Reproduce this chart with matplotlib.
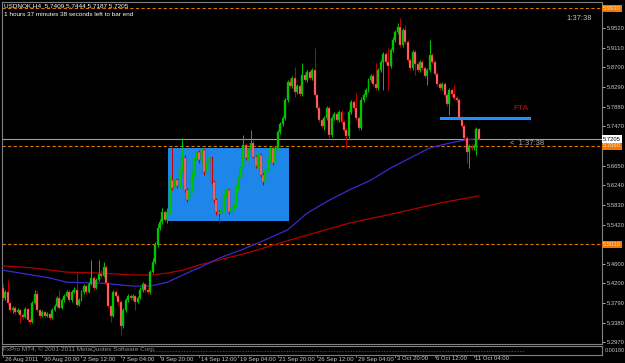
import matplotlib
matplotlib.use("Agg")
import matplotlib.pyplot as plt

plt.rcParams["font.family"] = ["Liberation Sans", "DejaVu Sans"]

# USDNOK H4, 195 bars, 26 Aug 2011 .. 11 Oct 2011 12:00
first_open = 5.410
closes = [
    5.389, 5.402, 5.379, 5.364, 5.368, 5.360, 5.364, 5.354, 5.350, 5.366,
    5.343, 5.339, 5.379, 5.397, 5.364, 5.352, 5.360, 5.352, 5.356, 5.347,
    5.364, 5.372, 5.389, 5.368, 5.385, 5.393, 5.402, 5.385, 5.402, 5.406,
    5.375, 5.385, 5.402, 5.414, 5.402, 5.418, 5.431, 5.410, 5.427, 5.439,
    5.435, 5.454, 5.420, 5.372, 5.352, 5.402, 5.393, 5.381, 5.331, 5.364,
    5.385, 5.393, 5.389, 5.393, 5.381, 5.389, 5.406, 5.418, 5.406, 5.402,
    5.443, 5.464, 5.500, 5.535, 5.548, 5.568, 5.552, 5.568, 5.635, 5.618,
    5.635, 5.623, 5.656, 5.681, 5.614, 5.593, 5.614, 5.646, 5.677, 5.694,
    5.677, 5.698, 5.652, 5.673, 5.681, 5.631, 5.593, 5.568, 5.564, 5.573,
    5.604, 5.614, 5.568, 5.577, 5.583, 5.618, 5.639, 5.660, 5.708, 5.681,
    5.698, 5.712, 5.683, 5.664, 5.687, 5.646, 5.631, 5.656, 5.677, 5.702,
    5.671, 5.702, 5.735, 5.752, 5.764, 5.802, 5.839, 5.831, 5.848, 5.819,
    5.831, 5.814, 5.854, 5.844, 5.860, 5.848, 5.864, 5.812, 5.785, 5.760,
    5.748, 5.764, 5.785, 5.729, 5.764, 5.773, 5.760, 5.777, 5.756, 5.739,
    5.727, 5.777, 5.798, 5.785, 5.764, 5.744, 5.802, 5.812, 5.823, 5.844,
    5.852, 5.835, 5.827, 5.864, 5.881, 5.898, 5.881, 5.873, 5.906, 5.927,
    5.944, 5.954, 5.917, 5.948, 5.923, 5.885, 5.869, 5.902, 5.877, 5.864,
    5.881, 5.869, 5.852, 5.864, 5.896, 5.881, 5.856, 5.835, 5.827, 5.835,
    5.812, 5.794, 5.823, 5.814, 5.806, 5.802, 5.764, 5.748, 5.723, 5.694,
    5.706, 5.702, 5.706, 5.7409, 5.7205,
]
highs = [
    5.418, 5.406, 5.427, 5.381, 5.372, 5.372, 5.368, 5.366, 5.358, 5.370,
    5.368, 5.347, 5.383, 5.406, 5.406, 5.366, 5.364, 5.362, 5.360, 5.358,
    5.368, 5.377, 5.393, 5.406, 5.389, 5.397, 5.406, 5.406, 5.406, 5.412,
    5.441, 5.389, 5.406, 5.418, 5.416, 5.422, 5.468, 5.435, 5.431, 5.468,
    5.447, 5.464, 5.458, 5.422, 5.375, 5.406, 5.406, 5.397, 5.385, 5.368,
    5.389, 5.397, 5.397, 5.397, 5.395, 5.393, 5.412, 5.422, 5.420, 5.410,
    5.447, 5.472, 5.506, 5.543, 5.554, 5.577, 5.573, 5.577, 5.643, 5.704,
    5.639, 5.639, 5.660, 5.723, 5.687, 5.618, 5.618, 5.652, 5.683, 5.698,
    5.698, 5.702, 5.702, 5.677, 5.687, 5.685, 5.635, 5.598, 5.573, 5.577,
    5.608, 5.618, 5.618, 5.583, 5.587, 5.625, 5.643, 5.666, 5.729, 5.712,
    5.702, 5.739, 5.719, 5.687, 5.694, 5.691, 5.650, 5.660, 5.681, 5.706,
    5.706, 5.706, 5.739, 5.756, 5.769, 5.806, 5.844, 5.848, 5.852, 5.871,
    5.835, 5.835, 5.879, 5.860, 5.864, 5.864, 5.869, 5.910, 5.816, 5.789,
    5.764, 5.769, 5.789, 5.789, 5.769, 5.777, 5.777, 5.781, 5.781, 5.760,
    5.744, 5.781, 5.802, 5.802, 5.816, 5.769, 5.808, 5.816, 5.827, 5.848,
    5.856, 5.856, 5.879, 5.869, 5.885, 5.902, 5.902, 5.910, 5.910, 5.933,
    5.948, 5.962, 5.973, 5.952, 5.958, 5.927, 5.890, 5.906, 5.906, 5.881,
    5.885, 5.885, 5.873, 5.869, 5.927, 5.900, 5.885, 5.860, 5.839, 5.839,
    5.839, 5.816, 5.827, 5.827, 5.833, 5.810, 5.806, 5.769, 5.752, 5.727,
    5.710, 5.710, 5.710, 5.746, 5.7444,
]
lows = [
    5.385, 5.385, 5.375, 5.360, 5.358, 5.356, 5.358, 5.337, 5.345, 5.347,
    5.339, 5.335, 5.337, 5.377, 5.360, 5.347, 5.350, 5.347, 5.350, 5.343,
    5.345, 5.362, 5.370, 5.366, 5.366, 5.381, 5.391, 5.381, 5.381, 5.400,
    5.370, 5.372, 5.383, 5.397, 5.397, 5.400, 5.416, 5.406, 5.408, 5.425,
    5.431, 5.433, 5.416, 5.368, 5.339, 5.350, 5.389, 5.375, 5.312, 5.327,
    5.360, 5.381, 5.385, 5.385, 5.364, 5.379, 5.387, 5.402, 5.402, 5.397,
    5.397, 5.441, 5.460, 5.495, 5.531, 5.543, 5.548, 5.545, 5.564, 5.614,
    5.614, 5.618, 5.618, 5.652, 5.610, 5.589, 5.587, 5.610, 5.641, 5.673,
    5.671, 5.673, 5.646, 5.648, 5.666, 5.627, 5.587, 5.562, 5.545, 5.560,
    5.568, 5.600, 5.564, 5.564, 5.573, 5.579, 5.614, 5.635, 5.656, 5.677,
    5.677, 5.694, 5.681, 5.660, 5.660, 5.641, 5.625, 5.627, 5.652, 5.673,
    5.666, 5.666, 5.698, 5.731, 5.748, 5.760, 5.798, 5.827, 5.827, 5.808,
    5.814, 5.810, 5.810, 5.839, 5.839, 5.844, 5.844, 5.808, 5.781, 5.756,
    5.744, 5.739, 5.760, 5.723, 5.725, 5.760, 5.756, 5.756, 5.752, 5.735,
    5.702, 5.723, 5.773, 5.781, 5.760, 5.739, 5.739, 5.798, 5.808, 5.819,
    5.839, 5.831, 5.823, 5.823, 5.860, 5.823, 5.877, 5.823, 5.869, 5.902,
    5.923, 5.940, 5.912, 5.912, 5.919, 5.881, 5.864, 5.864, 5.854, 5.860,
    5.860, 5.864, 5.848, 5.833, 5.860, 5.877, 5.852, 5.831, 5.823, 5.823,
    5.808, 5.789, 5.771, 5.810, 5.802, 5.798, 5.760, 5.744, 5.719, 5.671,
    5.660, 5.698, 5.698, 5.687, 5.7187,
]

# moving averages (bar index, value)
ma_fast_bar = [0, 19, 26, 40, 53, 60, 67, 75, 80, 88, 97, 105, 116, 124, 133,
               141, 150, 158, 166, 174, 182, 189, 194]
ma_fast_val = [5.447, 5.431, 5.422, 5.420, 5.414, 5.414, 5.422, 5.441, 5.452,
               5.472, 5.489, 5.506, 5.531, 5.566, 5.593, 5.614, 5.635, 5.660,
               5.681, 5.702, 5.712, 5.719, 5.721]
ma_slow_bar = [0, 12, 26, 40, 53, 60, 67, 73, 80, 101, 117, 141, 162, 178, 194]
ma_slow_val = [5.456, 5.452, 5.443, 5.441, 5.437, 5.437, 5.441, 5.447, 5.458,
               5.485, 5.510, 5.545, 5.568, 5.587, 5.602]

price_ticks = [5.9520, 5.9110, 5.8700, 5.8290, 5.7880, 5.7470, 5.6650, 5.6240,
               5.5830, 5.5420, 5.4600, 5.4200, 5.3790, 5.3380, 5.2970]
level_lines = [5.9930, 5.7060, 5.5010]
bid = 5.7205
date_labels = ["26 Aug 2011", "30 Aug 20:00", "2 Sep 12:00", "7 Sep 04:00",
               "9 Sep 20:00", "14 Sep 12:00", "19 Sep 04:00", "21 Sep 20:00",
               "26 Sep 12:00", "29 Sep 04:00", "3 Oct 20:00", "6 Oct 12:00",
               "11 Oct 04:00"]
box_bars = (67.3, 116.6)
box_prices = (5.5496, 5.7018)
fta_bars = (178.6, 214.4)
fta_price = 5.7644

W, H = 625, 363
fig = plt.figure(figsize=(W / 100, H / 100), dpi=100, facecolor="black")
ax = fig.add_axes([2 / W, 1 - 344 / H, 600 / W, 342 / H])
ax.set_facecolor("black")
ax.set_xlim(-0.41, 244.2)
ax.set_ylim(5.2932, 6.0062)

grey = "#808080"
for s in ax.spines.values():
    s.set_color(grey)
    s.set_linewidth(0.8)
ax.set_xticks([])
ax.yaxis.tick_right()
ax.set_yticks(price_ticks)
ax.set_yticklabels(["%.4f" % p for p in price_ticks])
ax.tick_params(axis="y", colors="#c8c8c8", labelsize=4.2, length=2, width=0.6,
               pad=1.5)
for t in ax.get_yticklines():
    t.set_color(grey)

# blue rectangle
ax.fill_between(box_bars, box_prices[0], box_prices[1], color="#1e86e8",
                zorder=1, linewidth=0)

# levels
for lv in level_lines:
    ax.axhline(lv, color="#d87800", lw=0.8, dashes=(3, 2), zorder=2)
    ax.text(1.002, lv, "%.4f" % lv, transform=ax.get_yaxis_transform(),
            fontsize=4.2, color="#ffe0c0", va="center", ha="left",
            bbox=dict(boxstyle="square,pad=0.2", fc="#f07800", ec="none"),
            clip_on=False, zorder=6)
ax.axhline(bid, color="#a0a0a0", lw=0.8, zorder=2)
ax.text(1.002, bid, "%.4f" % bid, transform=ax.get_yaxis_transform(),
        fontsize=4.2, color="black", va="center", ha="left",
        bbox=dict(boxstyle="square,pad=0.2", fc="white", ec="none"),
        clip_on=False, zorder=6)

# moving averages
ax.plot(ma_slow_bar, ma_slow_val, color="#b00000", lw=0.9, zorder=3)
ax.plot(ma_fast_bar, ma_fast_val, color="#3a2ad0", lw=0.9, zorder=3)

# candles
opens = [first_open] + closes[:-1]
for i, (o, c, hi, lo) in enumerate(zip(opens, closes, highs, lows)):
    up = c >= o
    wick = "#00c800" if up else "#c00000"
    ax.vlines(i, lo, hi, color=wick, lw=0.7, zorder=4)
    body = "#00d000" if up else "#ff7878"
    edge = "#00a000" if up else "#d00000"
    ax.bar(i, max(abs(c - o), 0.0012), bottom=min(o, c), width=0.8,
           color=body, edgecolor=edge, linewidth=0.3, zorder=5)

# FTA line
ax.plot(fta_bars, [fta_price, fta_price], color="#1e90ff", lw=2.2, zorder=6)
ax.text(208, 5.776, "FTA", color="#c01010", fontsize=6, ha="left",
        va="bottom", zorder=6)
ax.text(206.5, 5.712, "<  1:37:38", color="#b0b0b0", fontsize=5.5,
        ha="left", va="center", zorder=6)
ax.text(235, 5.971, "1:37:38", color="#c0c0c0", fontsize=5.5, ha="center",
        va="center", zorder=6)

# header
ax.text(0.004, 0.996, "USDNOK,H4  5.7409 5.7444 5.7187 5.7205",
        transform=ax.transAxes, color="white", fontsize=4.6, va="top")
ax.text(0.004, 0.972, "1 hours 37 minutes 38 seconds left to bar end",
        transform=ax.transAxes, color="white", fontsize=4.6, va="top")

# subwindow strip
sub = fig.add_axes([2 / W, 1 - 355 / H, 600 / W, 9 / H])
sub.set_facecolor("black")
for s in sub.spines.values():
    s.set_color(grey)
    s.set_linewidth(0.8)
sub.set_xlim(ax.get_xlim())
sub.set_ylim(0, 1)
sub.set_xticks([])
sub.set_yticks([])
sub.text(0.002, 0.95, "FxPro MT4, \u00a9 2001-2011 MetaQuotes Software Corp.",
         transform=sub.transAxes, color="#909090", fontsize=4.6, va="top")
sub.plot([60, 213], [0.4, 0.4], color="#c00000", lw=0.8, dashes=(1.5, 1))
fig.text(605 / W, 1 - 350 / H, "0.00180", color="#c0c0c0", fontsize=4,
         va="center")

# date axis
for k, lab in enumerate(date_labels):
    b = 16 * k
    xf = (2 + (b + 0.41) * 600 / 244.61) / W
    fig.add_artist(plt.Line2D([xf, xf], [1 - 355 / H, 1 - 357 / H],
                              color=grey, lw=0.6))
    fig.text(xf + 1.5 / W, 1 - 359 / H, lab, color="#c8c8c8", fontsize=4.3,
             va="center", ha="left")

fig.savefig("out.png", dpi=100, facecolor="black")
